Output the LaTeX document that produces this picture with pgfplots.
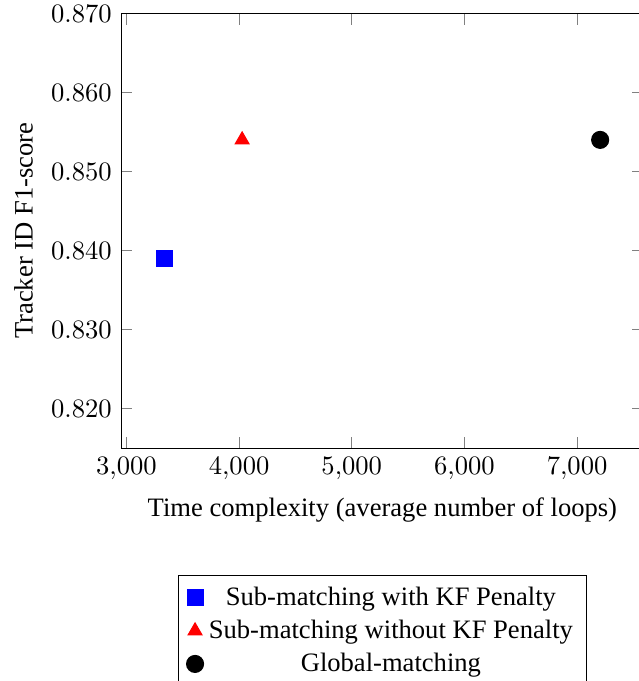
\documentclass[border={2pt -2pt -2pt -1.5pt}]{standalone}
\usepackage{fontspec}
\setmainfont{Liberation Serif}
\usepackage{pgfplots}
\pgfplotsset{compat=1.18}

\begin{document}
\begin{tikzpicture}
\begin{axis}[
	scale only axis,
	width=196.6pt,
	height=163.5pt,
	ymin=0.815, ymax=0.870,
	ytick={0.820,0.830,0.840,0.850,0.860,0.870},
	yticklabel style={/pgf/number format/.cd, fixed, fixed zerofill, precision=3},
	xtick={3000,4000,5000,6000,7000},
	xlabel={Time complexity (average number of loops)},
	ylabel={Tracker ID F1-score},
	legend style={at={(0.5,-0.293)}, anchor=north, cells={anchor=center}},
	legend cell align=center,
]
	\addplot[only marks, mark=square*, color=blue, mark size=3pt]
	coordinates {(3339, 0.839)};
	\addplot[only marks, mark=triangle*, color=red, mark size=3pt]
	coordinates {(4027, 0.854)};
	\addplot[only marks, mark=*, color=black, mark size=3.2pt]
	coordinates {(7205, 0.854)};
	\legend{Sub-matching with KF Penalty, Sub-matching without KF Penalty, Global-matching}
\end{axis}
\end{tikzpicture}
\end{document}
